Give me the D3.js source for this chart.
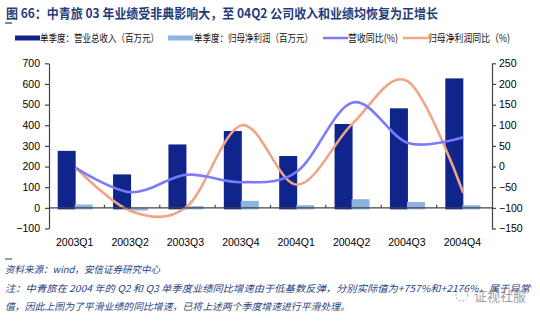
<!DOCTYPE html>
<html><head><meta charset="utf-8">
<script src="https://cdn.jsdelivr.net/npm/d3@7"></script>
<style>body{margin:0;background:#fff;}svg{display:block;}</style>
</head><body>
<script>
const categories = ["2003Q1","2003Q2","2003Q3","2003Q4","2004Q1","2004Q2","2004Q3","2004Q4"];
const revenue = [276, 162, 307, 372, 251, 406, 482, 627];
const netProfit = [16, -6, 8, 34, 13, 42, 28, 13];
const revenueYoY = [-3, -62, -20, -38, -12, 155, 57, 71];
const profitYoY = [-3, -108, -98, 100, -44, 104, 206, -64];
const leftTicks = [-100, 0, 100, 200, 300, 400, 500, 600, 700];
const rightTicks = [-150, -100, -50, 0, 50, 100, 150, 200, 250];
const seriesNames = ["单季度：营业总收入（百万元）","单季度：归母净利润（百万元）","营收同比(%)","归母净利润同比（%)"];

const W = 540, H = 322;
const cDark = "#10258C", cLight = "#8DB3E2", cPurple = "#7B7BFB", cSalmon = "#EFA587";
const titleColor = "#1F3C7A";
const font = "'Liberation Sans', Arial, sans-serif";
const cjk = "'Noto Sans CJK SC', 'Liberation Sans', sans-serif";

const svg = d3.select("body").append("svg").attr("width", W).attr("height", H);

const x0 = 49, x1 = 492, yTop = 63.3, yBot = 228.5;
const x = d3.scaleBand().domain(categories).range([x0, x1]).paddingInner(0).paddingOuter(0);
const yL = d3.scaleLinear().domain([-100, 700]).range([yBot, yTop]);
const yR = d3.scaleLinear().domain([-150, 250]).range([yBot, yTop]);

// Title
svg.append("text").attr("x", 6).attr("y", 18)
  .attr("font-family", cjk).attr("font-weight", "bold").attr("font-size", 13)
  .attr("fill", titleColor)
  .attr("textLength", 432).attr("lengthAdjust", "spacingAndGlyphs")
  .text("图 66：中青旅 03 年业绩受非典影响大，至 04Q2 公司收入和业绩均恢复为正增长");
svg.append("line").attr("x1", 5).attr("x2", 12).attr("y1", 23).attr("y2", 23)
  .attr("stroke", titleColor).attr("stroke-width", 1.2);

// Legend
const lg = svg.append("g").attr("font-family", cjk).attr("font-size", 10.5).attr("fill", "#111");
const legendItems = [
  {type: "bar", color: cDark, sx: 15, tx: 40, tw: 119, name: seriesNames[0]},
  {type: "bar", color: cLight, sx: 168, tx: 194, tw: 119, name: seriesNames[1]},
  {type: "line", color: cPurple, sx: 323, tx: 348, tw: 50, name: seriesNames[2]},
  {type: "line", color: cSalmon, sx: 403, tx: 428, tw: 82, name: seriesNames[3]}
];
legendItems.forEach(it => {
  if (it.type === "bar") {
    lg.append("rect").attr("x", it.sx).attr("y", 35.5).attr("width", 25).attr("height", 5).attr("fill", it.color);
  } else {
    lg.append("line").attr("x1", it.sx).attr("x2", it.sx + 25).attr("y1", 38).attr("y2", 38)
      .attr("stroke", it.color).attr("stroke-width", 2.5);
  }
  lg.append("text").attr("x", it.tx).attr("y", 42)
    .attr("textLength", it.tw).attr("lengthAdjust", "spacingAndGlyphs").text(it.name);
});

// Bars
const bw = 18;
svg.append("g").selectAll("rect").data(categories).join("rect")
  .attr("x", (d) => x(d) + x.bandwidth()/2 - bw - 1)
  .attr("y", (d, i) => yL(Math.max(0, revenue[i])))
  .attr("width", bw)
  .attr("height", (d, i) => Math.abs(yL(revenue[i]) - yL(0)) + 1.5)
  .attr("fill", cDark);
svg.append("g").selectAll("rect").data(categories).join("rect")
  .attr("x", (d) => x(d) + x.bandwidth()/2 - 2)
  .attr("y", (d, i) => yL(Math.max(0, netProfit[i])))
  .attr("width", bw)
  .attr("height", (d, i) => Math.abs(yL(netProfit[i]) - yL(0)) + 1.5)
  .attr("fill", cLight);

// Lines
const line = d3.line()
  .x((d, i) => x(categories[i]) + x.bandwidth()/2 - 1)
  .y(d => yR(d))
  .curve(d3.curveCardinal.tension(0));
svg.append("path").datum(profitYoY).attr("d", line)
  .attr("fill", "none").attr("stroke", cSalmon).attr("stroke-width", 2.6);
svg.append("path").datum(revenueYoY).attr("d", line)
  .attr("fill", "none").attr("stroke", cPurple).attr("stroke-width", 2.6);

// Axes
const axisColor = "#444";
const gL = svg.append("g").attr("transform", `translate(${x0},0)`)
  .call(d3.axisLeft(yL).tickValues(leftTicks).tickSize(4).tickPadding(5).tickSizeOuter(0));
const gR = svg.append("g").attr("transform", `translate(${x1},0)`)
  .call(d3.axisRight(yR).tickValues(rightTicks).tickSize(4).tickPadding(3).tickSizeOuter(0));
[gL, gR].forEach(g => {
  g.select(".domain").attr("stroke", axisColor).attr("stroke-width", 1.2);
  g.selectAll(".tick line").attr("stroke", axisColor).attr("stroke-width", 1.2);
  g.selectAll(".tick text").attr("font-family", font).attr("font-size", 10.5).attr("fill", "#000");
});

// x axis at zero
const gX = svg.append("g");
gX.append("line").attr("x1", x0).attr("x2", x1).attr("y1", yL(0)).attr("y2", yL(0))
  .attr("stroke", axisColor).attr("stroke-width", 1.2);
gX.selectAll("line.tk").data(categories.slice(1)).join("line").attr("class", "tk")
  .attr("x1", d => x(d)).attr("x2", d => x(d))
  .attr("y1", yL(0)).attr("y2", yL(0) - 3)
  .attr("stroke", axisColor).attr("stroke-width", 1.2);
gX.selectAll("text").data(categories).join("text")
  .attr("x", d => x(d) + x.bandwidth()/2 - 2)
  .attr("y", 245.5)
  .attr("text-anchor", "middle")
  .attr("font-family", font).attr("font-size", 10.5).attr("fill", "#000")
  .text(d => d);

// Footnotes
svg.append("line").attr("x1", 5).attr("x2", 12).attr("y1", 259).attr("y2", 259)
  .attr("stroke", titleColor).attr("stroke-width", 1);
const noteColor = "#2A3F80";
const notes = [
  {y: 273, w: 155, t: "资料来源：wind，安信证券研究中心"},
  {y: 292, w: 525, t: "注：中青旅在 2004 年的 Q2 和 Q3 单季度业绩同比增速由于低基数反弹，分别实际值为+757%和+2176%，属于异常"},
  {y: 310, w: 345, t: "值，因此上图为了平滑业绩的同比增速，已将上述两个季度增速进行平滑处理。"}
];
notes.forEach(n => {
  svg.append("text").attr("x", 5).attr("y", n.y)
    .attr("font-family", cjk).attr("font-size", 9.5).attr("font-style", "italic")
    .attr("fill", noteColor)
    .attr("textLength", n.w).attr("lengthAdjust", "spacingAndGlyphs")
    .text(n.t);
});
// watermark
svg.append("circle").attr("cx", 462).attr("cy", 295).attr("r", 6)
  .attr("fill", "none").attr("stroke", "#aaa").attr("stroke-width", 1).attr("stroke-dasharray", "2,1.5");
svg.append("text").attr("x", 474).attr("y", 301)
  .attr("font-family", cjk).attr("font-size", 13).attr("fill", "#888").attr("opacity", 0.8)
  .text("证视社服");
</script>
</body></html>
